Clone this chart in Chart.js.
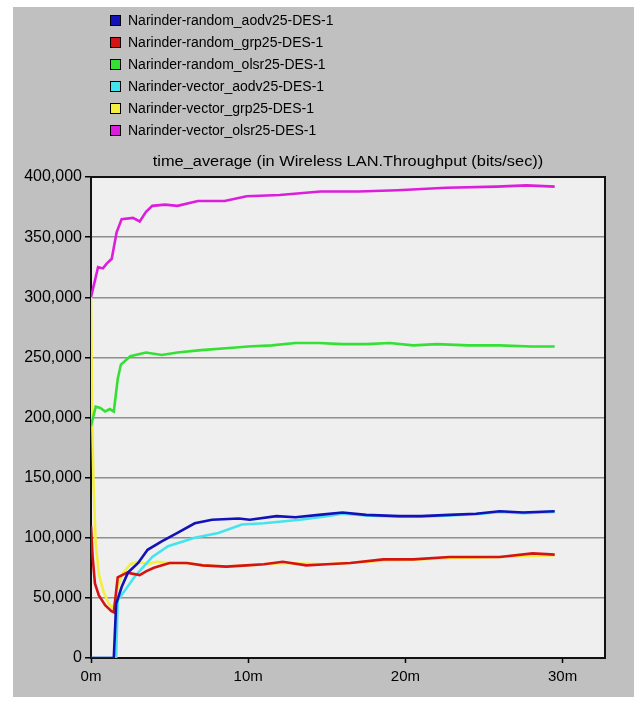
<!DOCTYPE html>
<html>
<head>
<meta charset="utf-8">
<script src="https://cdn.jsdelivr.net/npm/chart.js@4.4.1/dist/chart.umd.min.js"></script>
<style>
    html, body { margin: 0; padding: 0; background: #ffffff; }
    body { width: 644px; height: 704px; position: relative; overflow: hidden; font-family: "Liberation Sans", Arial, sans-serif; }
    #panel { position: absolute; left: 13px; top: 7px; width: 621px; height: 690px; background: #c0c0c0; }
    #chart { position: absolute; left: 0; top: 0; }
    #legend { position: absolute; left: 110px; top: 12px; margin: 0; padding: 0; list-style: none; }
    #legend li { height: 22px; line-height: 16px; font-size: 14px; color: #000; white-space: nowrap; }
    #legend span { display: inline-block; width: 9px; height: 9px; border: 1px solid #000; margin-right: 7px; vertical-align: -1px; }
    #title { position: absolute; left: 91px; width: 514px; top: 153px; text-align: center; font-size: 14px; color: #000; transform: scaleX(1.17); transform-origin: 50% 50%; }
</style>
</head>
<body>
<div id="panel"></div>
<canvas id="chart" width="644" height="704"></canvas>
<ul id="legend"></ul>
<div id="title">time_average (in Wireless LAN.Throughput (bits/sec))</div>
<script>
// --- 1. DATA (time in minutes, throughput in bits/sec) ---
const seriesNames = [
    'Narinder-random_aodv25-DES-1',
    'Narinder-random_grp25-DES-1',
    'Narinder-random_olsr25-DES-1',
    'Narinder-vector_aodv25-DES-1',
    'Narinder-vector_grp25-DES-1',
    'Narinder-vector_olsr25-DES-1'
];
const seriesColors = ['#1212b8', '#d41414', '#34e034', '#44e4ee', '#f4ee3c', '#dc1edc'];

const tRandomAodv = [0, 1.45, 1.6, 1.95, 2.35, 3.0, 3.6, 4.5, 5.5, 6.6, 7.7, 9.4, 10.1, 11.8, 13, 14.5, 16, 17.5, 19.6, 21, 22.8, 24.5, 26, 27.5, 29.5];
const vRandomAodv = [0, 0, 45000, 59000, 71000, 79000, 90000, 97000, 104000, 112000, 115000, 116000, 115000, 118000, 117000, 119000, 121000, 119000, 118000, 118000, 119000, 120000, 122000, 121000, 122000];

const tRandomGrp = [0, 0.1, 0.25, 0.5, 0.9, 1.3, 1.45, 1.7, 2.3, 3.1, 3.5, 4.0, 5.0, 6.1, 7.1, 8.6, 9.9, 11, 12.2, 13.7, 15, 16.5, 18.6, 20.5, 22.8, 24.5, 26, 28.1, 29.5];
const vRandomGrp = [110000, 85000, 62000, 52000, 44000, 39000, 38000, 67000, 71000, 69000, 72000, 75000, 79000, 79000, 77000, 76000, 77000, 78000, 80000, 77000, 78000, 79000, 82000, 82000, 84000, 84000, 84000, 87000, 86000];

const tRandomOlsr = [0, 0.3, 0.6, 0.9, 1.2, 1.45, 1.7, 1.9, 2.5, 3.5, 4.5, 5.5, 7, 9, 10, 11.5, 13, 14.5, 16, 17.5, 19, 20.5, 22, 24, 26, 28, 29.5];
const vRandomOlsr = [193000, 209000, 208000, 205000, 207000, 205000, 232000, 244000, 251000, 254000, 252000, 254000, 256000, 258000, 259000, 260000, 262000, 262000, 261000, 261000, 262000, 260000, 261000, 260000, 260000, 259000, 259000];

const tVectorAodv = [0, 1.6, 1.7, 2.2, 2.8, 3.9, 4.9, 6.6, 8.1, 9.6, 11, 13.3, 15, 16, 17.5, 19.6, 21, 22.8, 24.5, 26, 27.5, 29.5];
const vVectorAodv = [0, 0, 48000, 57000, 68000, 84000, 93000, 100000, 104000, 111000, 112000, 115000, 118000, 120000, 118500, 117500, 117500, 118500, 119500, 121500, 120500, 121500];

const tVectorGrp = [0, 0.08, 0.15, 0.3, 0.5, 0.8, 1.1, 1.35, 1.5, 1.7, 2.0, 2.5, 3.0, 3.6, 4.2, 5.0, 6.1, 7.1, 8.6, 9.9, 12.2, 15, 18.6, 22.8, 26, 29.5];
const vVectorGrp = [300000, 200000, 150000, 95000, 70000, 55000, 46000, 42000, 45000, 60000, 70000, 78000, 80000, 78000, 80000, 79000, 79000, 77000, 76000, 77000, 79000, 78000, 81000, 83000, 84000, 85500];

const tVectorOlsr = [0, 0.45, 0.76, 1.0, 1.32, 1.63, 1.95, 2.67, 3.1, 3.5, 3.9, 4.7, 5.5, 6.8, 8.5, 9.9, 12, 14.6, 17, 19.5, 22.6, 25.8, 27.7, 29.5];
const vVectorOlsr = [300000, 325000, 324000, 328000, 332000, 354000, 365000, 366000, 363000, 371000, 376000, 377000, 376000, 380000, 380000, 384000, 385000, 388000, 388000, 389000, 391000, 392000, 393000, 392000];

const xTicks = [0, 10, 20, 30];
const xMax = 32.7;
const yTicks = [0, 50000, 100000, 150000, 200000, 250000, 300000, 350000, 400000];

// --- 2. LEGEND (html list) ---
const legendEl = document.getElementById('legend');
seriesNames.forEach((name, i) => {
    const li = document.createElement('li');
    li.innerHTML = `<span style="background:${seriesColors[i]}"></span>${name}`;
    legendEl.appendChild(li);
});

// --- 3. CHART ---
const zip = (t, v) => t.map((x, i) => ({ x: x, y: v[i] }));
const seriesData = [
    zip(tRandomAodv, vRandomAodv),
    zip(tRandomGrp, vRandomGrp),
    zip(tRandomOlsr, vRandomOlsr),
    zip(tVectorAodv, vVectorAodv),
    zip(tVectorGrp, vVectorGrp),
    zip(tVectorOlsr, vVectorOlsr)
];

// plot background + frame
const plotFrame = {
    id: 'plotFrame',
    beforeDraw(chart) {
        const { ctx, chartArea: a } = chart;
        ctx.save();
        ctx.fillStyle = '#efefef';
        ctx.fillRect(a.left, a.top, a.width, a.height);
        ctx.restore();
    },
    beforeDatasetsDraw(chart) {
        const { ctx, chartArea: a } = chart;
        ctx.save();
        ctx.strokeStyle = '#111';
        ctx.lineWidth = 2;
        ctx.strokeRect(a.left, a.top, a.width, a.height);
        ctx.restore();
    }
};

const fontFamily = '"Liberation Sans", Arial, sans-serif';

new Chart(document.getElementById('chart'), {
    type: 'line',
    data: {
        datasets: seriesData.map((d, i) => ({
            label: seriesNames[i],
            data: d,
            borderColor: seriesColors[i],
            borderWidth: 2.6,
            pointRadius: 0,
            tension: 0,
            fill: false
        }))
    },
    options: {
        responsive: false,
        animation: false,
        layout: { padding: { top: 177, left: 0, right: 39, bottom: 0 } },
        plugins: { legend: { display: false }, tooltip: { enabled: false } },
        scales: {
            x: {
                type: 'linear',
                min: 0,
                max: xMax,
                afterFit: s => { s.height = 46; },
                afterBuildTicks: s => { s.ticks = xTicks.map(v => ({ value: v })); },
                border: { display: false },
                grid: { drawOnChartArea: false, drawTicks: true, tickLength: 5, tickColor: '#000', tickWidth: 1.5 },
                ticks: { color: '#000', font: { family: fontFamily, size: 15 }, padding: 5, maxRotation: 0, callback: v => v + 'm' }
            },
            y: {
                min: 0,
                max: 400000,
                afterFit: s => { s.width = 91; },
                afterBuildTicks: s => { s.ticks = yTicks.map(v => ({ value: v })); },
                border: { display: false },
                grid: { color: '#8e8e8e', lineWidth: 1.5, drawTicks: true, tickLength: 6, tickColor: '#000', tickWidth: 1.5 },
                ticks: { color: '#000', font: { family: fontFamily, size: 16 }, padding: 3, callback: v => v.toLocaleString('en-US') }
            }
        }
    },
    plugins: [plotFrame]
});
</script>
</body>
</html>
